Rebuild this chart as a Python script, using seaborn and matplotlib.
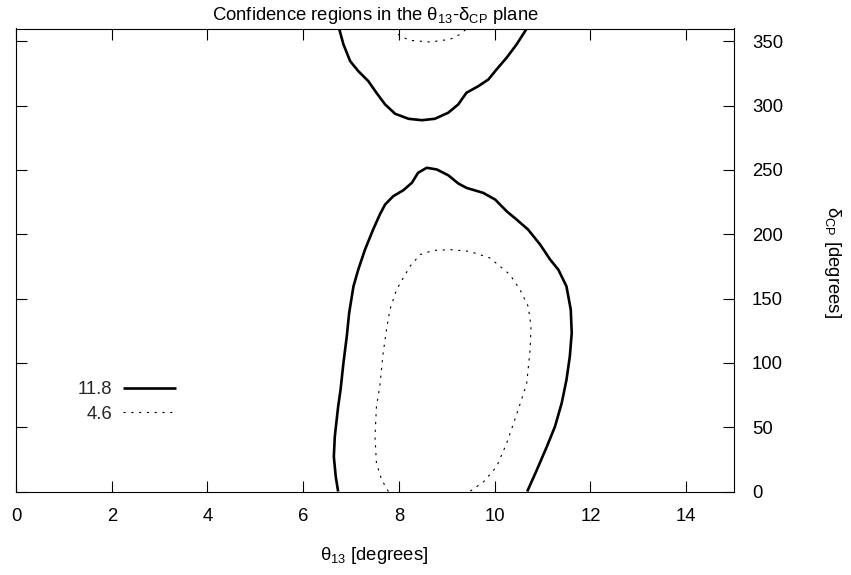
import numpy as np
import pandas as pd
import matplotlib
matplotlib.use("Agg")
import matplotlib.pyplot as plt
import seaborn as sns

# Contour levels (delta chi^2) shown in the legend
levels = ["11.8", "4.6"]

# 11.8 contour, lower region (theta13 [deg], deltaCP [deg])
c118_low_x = [6.73, 6.68, 6.64, 6.66, 6.73, 6.78, 6.84, 6.91, 6.96, 7.05, 7.15, 7.29,
              7.46, 7.60, 7.71, 7.88, 8.09, 8.27, 8.40, 8.58, 8.79, 9.03, 9.24, 9.41,
              9.76, 10.01, 10.25, 10.46, 10.70, 10.95, 11.16, 11.33, 11.50, 11.59, 11.61,
              11.57, 11.50, 11.40, 11.26, 11.09, 10.88, 10.68]
c118_low_y = [0.0, 11.5, 27.1, 42.7, 66.0, 79.0, 99.8, 120.5, 138.8, 159.5, 172.5, 188.0,
              203.6, 215.3, 223.1, 229.6, 234.2, 240.0, 247.8, 251.7, 250.4, 245.9, 239.5, 236.1,
              232.2, 227.0, 217.9, 211.4, 203.6, 192.0, 180.3, 172.5, 159.5, 141.3, 123.2,
              105.0, 86.8, 68.7, 50.5, 34.9, 16.7, 0.0]

# 11.8 contour, upper region
c118_up_x = [6.75, 6.84, 6.98, 7.15, 7.36, 7.53, 7.71, 7.92, 8.20, 8.48, 8.75, 9.03,
             9.24, 9.41, 9.66, 9.87, 10.04, 10.25, 10.46, 10.67]
c118_up_y = [360.0, 347.7, 334.7, 326.9, 319.1, 310.0, 301.0, 293.7, 289.8, 288.7, 289.8, 294.5,
             301.0, 310.0, 315.2, 320.4, 328.2, 337.3, 347.7, 360.0]

# 4.6 contour, lower region
c46_low_x = [7.78, 7.64, 7.53, 7.50, 7.53, 7.60, 7.67, 7.74, 7.81, 7.95, 8.13, 8.23,
             8.44, 8.72, 9.10, 9.48, 9.90, 10.32, 10.53, 10.70, 10.76, 10.74, 10.67,
             10.56, 10.42, 10.25, 10.04, 9.77, 9.48]
c46_low_y = [0.0, 9.0, 22.0, 42.7, 66.0, 81.6, 107.6, 125.8, 141.3, 156.9, 168.6, 175.0,
             184.2, 187.5, 188.0, 186.7, 181.6, 168.6, 156.9, 143.9, 128.3, 110.2, 84.3,
             71.3, 55.7, 37.5, 19.3, 7.6, 0.0]

# 4.6 contour, upper region
c46_up_x = [7.87, 8.02, 8.23, 8.65, 9.07, 9.28, 9.42]
c46_up_y = [360.0, 354.2, 350.8, 349.5, 351.6, 355.5, 360.0]

x_ticks = [0, 2, 4, 6, 8, 10, 12, 14]
y_ticks = [0, 50, 100, 150, 200, 250, 300, 350]

sns.set_theme(style="ticks")
plt.rcParams["font.family"] = ["Liberation Sans", "DejaVu Sans"]
plt.rcParams["mathtext.default"] = "regular"

FS = 13.3
fig = plt.figure(figsize=(8.51, 5.75), dpi=100)
W, H = 851, 575
ax = fig.add_axes([16 / W, 1 - 491.5 / H, (734 - 16) / W, (491.5 - 28.5) / H])

solid = dict(color="black", lw=1.9, solid_capstyle="butt", solid_joinstyle="round")
dotted = dict(color="black", lw=0.8, dashes=(2, 5))

frames = [
    (c118_low_x, c118_low_y, solid, levels[0]),
    (c118_up_x, c118_up_y, solid, None),
    (c46_low_x, c46_low_y, dotted, levels[1]),
    (c46_up_x, c46_up_y, dotted, None),
]
for xs, ys, style, lab in frames:
    df = pd.DataFrame({"theta13": xs, "dcp": ys})
    sns.lineplot(data=df, x="theta13", y="dcp", sort=False, estimator=None,
                 ax=ax, label=lab, **style)

ax.set_xlim(0, 15)
ax.set_ylim(0, 360)
ax.set_xticks(x_ticks)
ax.set_yticks(y_ticks)
ax.set_xlabel("")
ax.set_ylabel("")

for s in ax.spines.values():
    s.set_linewidth(0.8)
    s.set_color("black")

ax.tick_params(axis="both", which="both", direction="in", length=8, width=0.8,
               colors="black", labelsize=FS, top=True, right=True,
               left=True, bottom=True)
ax.tick_params(axis="y", labelleft=False, labelright=True, pad=13)
ax.tick_params(axis="x", labelbottom=True, labeltop=False, pad=12)

leg = ax.legend(loc="center right", bbox_to_anchor=((176 - 16) / 718, (491.5 - 402) / 463),
                frameon=False, markerfirst=False, fontsize=FS, borderpad=0,
                borderaxespad=0, handlelength=2.86, handletextpad=0.6,
                labelspacing=0.4)

fig.text(375 / W, 1 - 15 / H, r"Confidence regions in the $\theta_{13}$-$\delta_{CP}$ plane",
         ha="center", va="center", fontsize=FS, color="black")
fig.text(374 / W, 1 - 555 / H, r"$\theta_{13}$ [degrees]",
         ha="center", va="center", fontsize=FS, color="black")
fig.text(832 / W, 1 - 262 / H, r"$\delta_{CP}$ [degrees]",
         ha="center", va="center", rotation=270, fontsize=FS, color="black")

fig.savefig("out.png", dpi=100)
